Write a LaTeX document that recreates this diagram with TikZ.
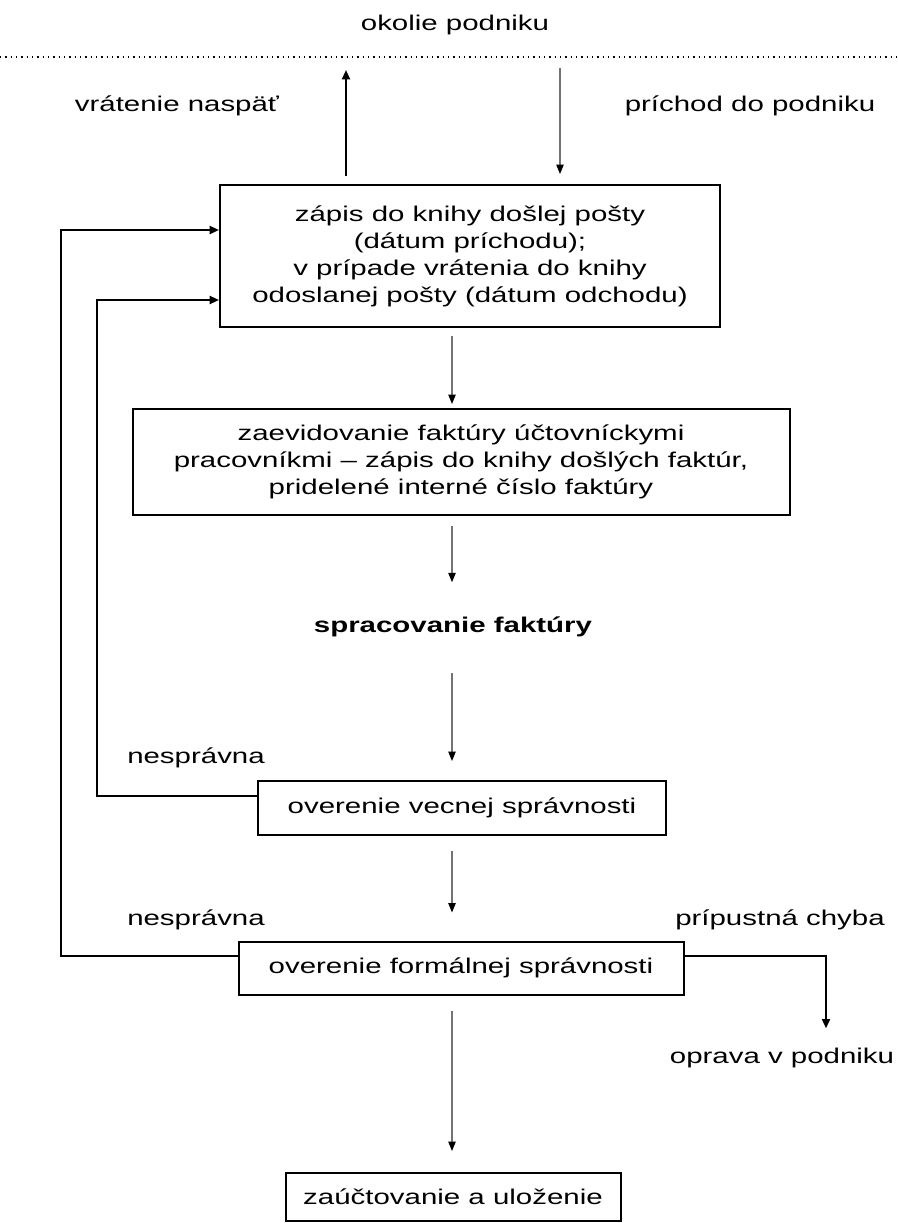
\documentclass[tikz,border=0pt]{standalone}
\usepackage{fontspec}
\setmainfont[FakeStretch=1.38]{Liberation Sans}
\usetikzlibrary{calc, positioning, arrows.meta}
\definecolor{flow_gray}{rgb}{0.45, 0.45, 0.45}
\tikzset{
  box/.style={draw, line width=1.5pt, align=center, inner sep=0pt},
  flow/.style={draw=flow_gray, line width=0.9pt, -{Triangle[length=7pt, width=5.5pt, color=black]}},
  feedback/.style={draw, line width=1.5pt, -{Triangle[length=7pt, width=6pt]}}
}

\begin{document}
\begin{tikzpicture}[x=0.75pt, y=-0.75pt, font=\fontsize{16}{20.25}\selectfont]
        \useasboundingbox (0,0) rectangle (898,1223);
        % lanes for the connectors
        \coordinate (trunk) at (452,0);
        \coordinate (ret) at (346,0);
        \coordinate (arr) at (560,0);
        \coordinate (lane1) at (61,0);
        \coordinate (lane2) at (97,0);
        \coordinate (drop) at (826,0);

        % okolie
        \node (okolie) at (455,25) {okolie podniku};
        \coordinate (envl) at (0,57);
        \coordinate (envr) at (898,57);
        \draw[line width=1pt, dash pattern=on 1pt off 3pt] (envl) -- (envr);
        \node (vratenie) at (177,106) {vrátenie naspäť};
        \node (prichod) at (750,106) {príchod do podniku};

        % steps
        \node[box, minimum width=375pt, minimum height=106.5pt] (post) at (470,256)
            {zápis do knihy došlej pošty\\(dátum príchodu);\\v prípade vrátenia do knihy\\odoslanej pošty (dátum odchodu)};
        \node[box, minimum width=492.75pt, minimum height=79.5pt] (evid) at (461,462)
            {zaevidovanie faktúry účtovníckymi\\pracovníkmi – zápis do knihy došlých faktúr,\\pridelené interné číslo faktúry};
        \node[font=\fontsize{16}{20.25}\selectfont\bfseries] (sprac) at (453,627) {spracovanie faktúry};
        \node[box, minimum width=306pt, minimum height=40.5pt] (vecna) at (462,808) {overenie vecnej správnosti};
        \node[box, minimum width=333.75pt, minimum height=39.75pt] (formal) at (461,968) {overenie formálnej správnosti};
        \node[box, minimum width=251.25pt, minimum height=36pt] (uctov) at (453,1197) {zaúčtovanie a uloženie};

        \node (nespr1) at (196,758) {nesprávna};
        \node (nespr2) at (196,920) {nesprávna};
        \node (chyba) at (780,920) {prípustná chyba};
        \node (oprava) at (782,1058) {oprava v podniku};

        % top arrows
        \draw[feedback] ($(post.north -| ret)+(0,-8)$) -- ($(envl -| ret)+(0,13)$);
        \draw[flow] ($(envl -| arr)+(0,11)$) -- ($(post.north -| arr)+(0,-10)$);

        % main flow
        \draw[flow] ($(post.south -| trunk)+(0,8)$) -- ($(evid.north -| trunk)+(0,-4)$);
        \draw[flow] ($(evid.south -| trunk)+(0,10)$) -- ($(sprac.north -| trunk)+(0,-30)$);
        \draw[flow] ($(sprac.south -| trunk)+(0,31)$) -- ($(vecna.north -| trunk)+(0,-19)$);
        \draw[flow] ($(vecna.south -| trunk)+(0,15)$) -- ($(formal.north -| trunk)+(0,-28)$);
        \draw[flow] ($(formal.south -| trunk)+(0,15)$) -- ($(uctov.north -| trunk)+(0,-21)$);

        % nespravna / pripustna chyba
        \draw[feedback] ($(vecna.north west)+(0,16)$) -| ($(lane2)+(0,300)$) -- ($(post.west)+(0,44)$);
        \draw[feedback] ($(formal.north west)+(0,15)$) -| ($(lane1)+(0,230)$) -- ($(post.west)+(0,-26)$);
        \draw[feedback] ($(formal.north east)+(0,15)$) -| ($(oprava.north -| drop)+(0,-15)$);
    \end{tikzpicture}
\end{document}
